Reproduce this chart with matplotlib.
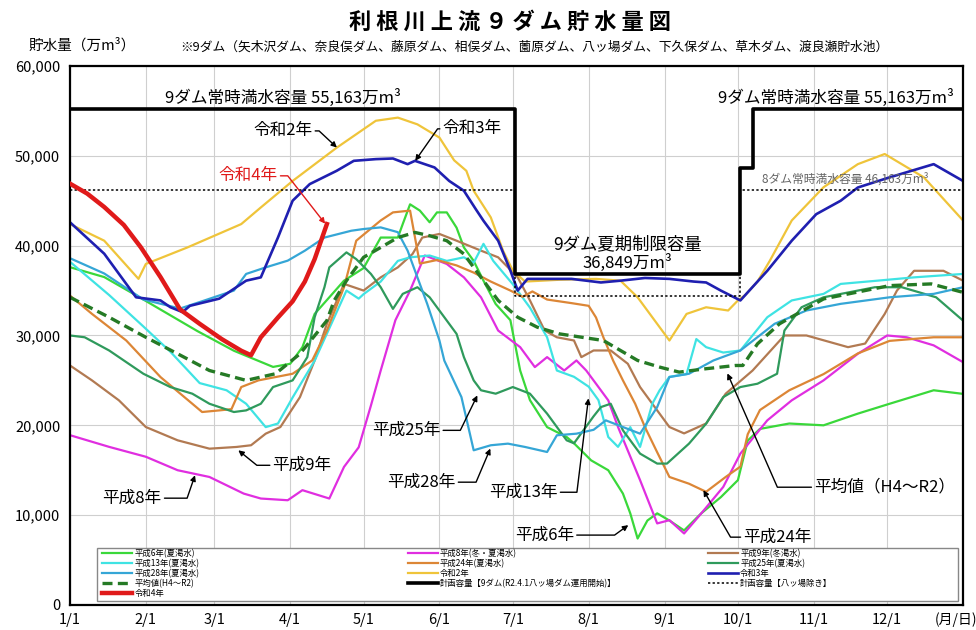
import matplotlib
matplotlib.use("Agg")
import matplotlib.pyplot as plt
from matplotlib.legend import Legend
from matplotlib.patches import Rectangle
from matplotlib.ticker import FuncFormatter

plt.rcParams['font.family'] = ['Noto Sans CJK JP', 'DejaVu Sans']

# x = day of year (0 = 1/1), y = storage in 万m3
month_days = [0, 31, 59, 90, 120, 151, 181, 212, 243, 273, 304, 334]
month_labels = ['1/1', '2/1', '3/1', '4/1', '5/1', '6/1', '7/1', '8/1', '9/1', '10/1', '11/1', '12/1']

h6_day = [0, 14, 30, 52, 67, 83, 90, 95, 100, 112, 120, 127, 134, 136, 139, 143, 147, 150, 154, 158, 161, 165,
          169, 174, 180, 184, 188, 195, 203, 206, 213, 220, 226, 229, 232, 236, 240, 245, 251, 258, 266, 273,
          277, 282, 294, 308, 322, 335, 353, 365]
h6_val = [37600, 36500, 34000, 30500, 28300, 26500, 26850, 28700, 32400, 36100, 37500, 40900, 40900, 42400,
          44600, 43900, 42600, 43700, 43700, 42000, 39800, 38300, 36100, 33500, 31700, 26100, 22800, 19800,
          18700, 18000, 16100, 15000, 12400, 10200, 7400, 9400, 10200, 9400, 8300, 10200, 12000, 13900, 18300,
          19600, 20200, 20000, 21300, 22400, 23900, 23500]

h8_day = [0, 16, 31, 44, 57, 71, 78, 89, 95, 106, 112, 118, 123, 127, 133, 139, 145, 147, 154, 161, 168, 175,
          184, 190, 195, 202, 207, 211, 215, 220, 224, 233, 240, 245, 251, 258, 267, 274, 285, 295, 308, 322,
          334, 342, 353, 365]
h8_val = [18900, 17600, 16500, 15000, 14250, 12400, 11850, 11660, 12780, 11850, 15370, 17550, 22200, 26100,
          31700, 35000, 38900, 38700, 37960, 36470, 34250, 30550, 28700, 26480, 27590, 26100, 27220, 26100,
          24630, 22780, 19810, 13900, 9080, 9440, 7960, 10190, 13140, 16850, 20550, 22780, 25000, 27960,
          30000, 29800, 28900, 27030]

h9_day = [0, 9, 20, 31, 44, 57, 68, 74, 80, 86, 94, 100, 105, 112, 120, 127, 134, 140, 144, 151, 158, 168, 175,
          183, 188, 194, 199, 206, 209, 214, 221, 228, 233, 239, 245, 251, 260, 268, 279, 292, 301, 318, 325,
          333, 338, 345, 357, 365]
h9_val = [26660, 25000, 22780, 19810, 18330, 17400, 17590, 17780, 19070, 19810, 23140, 27220, 31300, 35740,
          35000, 36470, 37580, 39070, 40900, 41300, 40550, 39440, 38700, 36470, 33900, 30550, 29800, 29440,
          27590, 28330, 28330, 26850, 24260, 22030, 19810, 19100, 20200, 23520, 26100, 30000, 30000, 28700,
          29100, 32400, 35000, 37200, 37200, 36100]

h13_day = [0, 16, 30, 41, 53, 64, 72, 80, 85, 91, 100, 108, 113, 118, 120, 127, 134, 139, 147, 154, 161, 165,
           169, 173, 181, 188, 195, 199, 206, 212, 216, 220, 224, 229, 233, 238, 241, 245, 252, 256, 260, 267,
           274, 285, 295, 308, 315, 330, 345, 365]
h13_val = [38200, 34500, 31000, 28200, 24700, 23900, 22400, 19800, 20200, 23100, 27200, 32000, 35000, 34100,
           34600, 36000, 38300, 38700, 38900, 38300, 38700, 38100, 40200, 38300, 35700, 33100, 29800, 26100,
           25400, 24300, 22800, 18700, 17600, 19800, 17600, 22400, 23900, 25400, 25700, 29600, 28700, 28100,
           28330, 32030, 33900, 34630, 35740, 36100, 36470, 36850]

h24_day = [0, 9, 23, 37, 50, 54, 61, 66, 70, 77, 91, 99, 105, 112, 117, 127, 132, 139, 142, 143, 150, 158, 165,
           172, 180, 185, 189, 195, 205, 212, 215, 218, 222, 226, 231, 235, 240, 245, 253, 260, 268, 274, 277,
           282, 294, 308, 322, 335, 353, 365]
h24_val = [34440, 32400, 29440, 25370, 22400, 21480, 21660, 21800, 24260, 25000, 25740, 27220, 30550, 35370,
           40550, 42800, 43700, 43900, 39440, 38000, 38400, 37800, 37000, 36000, 35000, 34300, 34900, 34000,
           33600, 33300, 32000, 29800, 27200, 25000, 22400, 19800, 17000, 14250, 13500, 12600, 14250, 15400,
           19000, 21700, 23900, 25700, 28000, 29400, 29800, 29800]

h25_day = [0, 6, 16, 30, 41, 50, 57, 67, 72, 78, 83, 91, 97, 100, 104, 106, 113, 117, 123, 127, 132, 136, 142,
           147, 153, 158, 161, 165, 168, 174, 181, 188, 195, 203, 206, 214, 217, 221, 226, 233, 240, 244, 253,
           260, 267, 274, 281, 289, 292, 299, 308, 329, 340, 354, 365]
h25_val = [30000, 29800, 28330, 25740, 24260, 23520, 22400, 21480, 21660, 22400, 24260, 25000, 27590, 32030,
           35370, 37580, 39250, 38500, 36850, 35370, 32960, 34630, 35370, 34250, 32030, 30180, 27590, 25000,
           23900, 23520, 24260, 23520, 21300, 18330, 18000, 21000, 22030, 22400, 19440, 16850, 15740, 15740,
           17960, 20180, 23140, 24260, 24630, 25740, 30550, 33140, 34250, 35370, 35370, 34250, 31660]

h28_day = [0, 14, 30, 45, 55, 67, 72, 80, 89, 96, 104, 115, 120, 127, 134, 138, 142, 146, 151, 153, 160, 165,
           172, 179, 186, 195, 199, 207, 214, 219, 226, 233, 240, 245, 253, 263, 274, 288, 301, 315, 335, 353, 365]
h28_val = [38600, 36900, 34000, 33000, 33900, 35000, 36850, 37580, 38330, 39440, 40900, 41660, 41850, 42030,
           41500, 39440, 36470, 33520, 29440, 27200, 23140, 17220, 17780, 17960, 17590, 17030, 18890, 19070,
           19500, 20550, 19810, 19070, 22030, 25370, 25740, 27220, 28330, 31300, 32780, 33520, 34250, 34630, 35370]

r2_day = [0, 14, 28, 31, 48, 70, 78, 91, 109, 125, 134, 142, 151, 157, 162, 165, 172, 177, 181, 186, 200, 215,
          225, 232, 239, 245, 252, 260, 269, 273, 276, 281, 286, 295, 308, 322, 333, 349, 365]
r2_val = [42400, 40550, 36300, 37960, 39800, 42400, 44250, 47200, 50900, 53900, 54250, 53500, 52030, 49500,
          48330, 46110, 43140, 39440, 37220, 36000, 36200, 36300, 36100, 34250, 31660, 29440, 32400, 33140,
          32780, 33900, 34500, 36000, 38300, 42800, 46500, 49070, 50200, 47600, 42800]

r3_day = [0, 14, 27, 37, 41, 46, 49, 61, 72, 78, 85, 91, 98, 109, 116, 125, 132, 138, 141, 149, 155, 161, 166,
          169, 175, 180, 183, 187, 195, 205, 217, 225, 235, 245, 255, 260, 266, 274, 279, 285, 295, 305, 315,
          322, 335, 353, 365]
r3_val = [42600, 39100, 34250, 33900, 33150, 32600, 33300, 34100, 36100, 36470, 40900, 45000, 46850, 48330,
          49440, 49630, 49700, 49070, 49440, 48700, 47200, 46110, 44000, 42770, 40550, 37220, 35000, 36300,
          36300, 36300, 35900, 36100, 36400, 36300, 36000, 35900, 35000, 33900, 35400, 37200, 40550, 43500,
          45000, 46470, 47600, 49070, 47200]

avg_day = [0, 16, 31, 44, 57, 72, 84, 94, 105, 108, 113, 120, 134, 141, 147, 154, 161, 168, 175, 183, 191,
           200, 218, 225, 232, 241, 249, 260, 272, 275, 281, 290, 308, 335, 352, 365]
avg_val = [34250, 32030, 29800, 27960, 26100, 25000, 25740, 27960, 31660, 33900, 36100, 38700, 40900, 41470,
           41100, 40550, 39070, 36470, 33900, 32030, 30920, 30180, 29440, 28330, 27220, 26480, 25920, 26300,
           26660, 26660, 29070, 31300, 34070, 35550, 35740, 34800]

r4_day = [0, 7, 14, 22, 29, 37, 45, 53, 62, 70, 74, 78, 85, 91, 96, 100, 105]
r4_val = [46900, 45800, 44300, 42300, 39800, 36500, 32900, 31300, 29600, 28300, 27800, 29800, 32000, 33800,
          36000, 38500, 42400]

# planned capacity: 9 dams (with Yamba) and 8 dams (without Yamba)
cap9_day = [0, 182, 182, 274, 274, 279, 279, 365]
cap9_val = [55163, 55163, 36849, 36849, 48663, 48663, 55163, 55163]
cap8_day = [0, 182, 182, 274, 274, 365]
cap8_val = [46163, 46163, 34349, 34349, 46163, 46163]

fig = plt.figure(figsize=(9.76, 6.3), dpi=100)
ax = fig.add_axes([0.0717, 0.0397, 0.915, 0.8556])

series = [
    (h6_day, h6_val, '#3ad83a', 1.6, '平成6年(夏渇水)'),
    (h8_day, h8_val, '#e02ee0', 1.6, '平成8年(冬・夏渇水)'),
    (h9_day, h9_val, '#b27a52', 1.6, '平成9年(冬渇水)'),
    (h13_day, h13_val, '#3fe3e3', 1.6, '平成13年(夏渇水)'),
    (h24_day, h24_val, '#dc8636', 1.6, '平成24年(夏渇水)'),
    (h25_day, h25_val, '#2f9a5c', 1.6, '平成25年(夏渇水)'),
    (h28_day, h28_val, '#35a6d6', 1.6, '平成28年(夏渇水)'),
    (r2_day, r2_val, '#efc43a', 1.6, '令和2年'),
    (r3_day, r3_val, '#1f1fb0', 1.9, '令和3年'),
]
handles = {}
for d, v, c, lw, lab in series:
    handles[lab], = ax.plot(d, v, color=c, lw=lw, zorder=2)

handles['平均値(H4～R2)'], = ax.plot(avg_day, avg_val, color='#257a25', lw=2.4, ls=(0, (3, 1.6)), zorder=2)
handles['計画容量【9ダム(R2.4.1八ッ場ダム運用開始)】'], = ax.plot(cap9_day, cap9_val, color='black', lw=2.6, zorder=3)
handles['計画容量【八ッ場除き】'], = ax.plot(cap8_day, cap8_val, color='black', lw=1.1, ls=(0, (1.5, 1.5)), zorder=3)
handles['令和4年'], = ax.plot(r4_day, r4_val, color='#e01a1a', lw=3.2, zorder=4)

ax.set_xlim(0, 365)
ax.set_ylim(0, 60000)
ax.set_xticks(month_days)
ax.set_xticklabels(month_labels, fontsize=10.5)
ax.set_yticks(range(0, 60001, 10000))
ax.yaxis.set_major_formatter(FuncFormatter(lambda v, p: f'{int(v):,}'))
ax.tick_params(length=0, labelsize=10.5)
ax.tick_params(axis='y', pad=7)
ax.tick_params(axis='x', pad=6)
ax.grid(True, color='#cfcfcf', lw=0.8)
ax.set_axisbelow(True)
for s in ax.spines.values():
    s.set_linewidth(1.6)

# capacity texts
ax.text(87, 56440, '9ダム常時満水容量 55,163万m³', fontsize=12, ha='center', va='center')
ax.text(313, 56440, '9ダム常時満水容量 55,163万m³', fontsize=12, ha='center', va='center')
ax.text(228, 40100, '9ダム夏期制限容量', fontsize=12.5, ha='center', va='center')
ax.text(228, 38100, '36,849万m³', fontsize=12, ha='center', va='center')
ax.text(317, 47440, '8ダム常時満水容量 46,163万m³', fontsize=8.5, ha='center', va='center', color='#666666')


def note(text, xy, xytext, angle, side, color='black'):
    ax.annotate(text, xy=xy, xytext=xytext, fontsize=12, color=color, ha='center', va='center', zorder=6,
                arrowprops=dict(arrowstyle='-|>', color=color, lw=1.0, mutation_scale=8,
                                shrinkA=0, shrinkB=0, relpos=(side, 0.5),
                                connectionstyle=f'angle,angleA=0,angleB={angle},rad=0'))


note('令和2年', (109.1, 50920), (87, 52770), -43, 1)
note('令和3年', (141.1, 49440), (164.4, 53000), 55, 0)
note('令和4年', (104.3, 42440), (72.8, 47770), -52, 1, color='#e01a1a')
note('平成9年', (68.8, 17220), (94.9, 15550), 141, 0)
note('平成8年', (51.1, 14440), (25.4, 11890), 71, 1)
note('平成25年', (166.5, 23330), (137.4, 19440), 64, 1)
note('平成28年', (171.8, 17410), (143.6, 13670), 67, 1)
note('平成13年', (211.9, 23000), (185.3, 12550), 83, 1)
note('平成6年', (228.2, 8890), (193.9, 7780), 36, 1)
note('平成24年', (258.9, 12780), (289.2, 7550), 120, 0)
note('平均値（H4～R2）', (268.7, 25780), (333, 13110), 113.7, 0)

# legend box with three columns
ax.add_patch(Rectangle((0.030, 0.0074), 0.964, 0.0983, transform=ax.transAxes,
                       facecolor='white', edgecolor='#888888', lw=1.0, zorder=7))
cols = [
    ['平成6年(夏渇水)', '平成13年(夏渇水)', '平成28年(夏渇水)', '平均値(H4～R2)', '令和4年'],
    ['平成8年(冬・夏渇水)', '平成24年(夏渇水)', '令和2年', '計画容量【9ダム(R2.4.1八ッ場ダム運用開始)】'],
    ['平成9年(冬渇水)', '平成25年(夏渇水)', '令和3年', '計画容量【八ッ場除き】'],
]
xs = [0.036, 0.378, 0.714]
for labs, x0 in zip(cols, xs):
    lg = Legend(ax, [handles[l] for l in labs], labs, loc='upper left', bbox_to_anchor=(x0, 0.104),
                fontsize=6, frameon=False, handlelength=3.6, handletextpad=0.3,
                labelspacing=0.12, borderpad=0, borderaxespad=0)
    lg.set_zorder(8)
    ax.add_artist(lg)

fig.text(0.5225, 0.965, '利 根 川 上 流 ９ ダ ム 貯 水 量 図', fontsize=16, fontweight='bold',
         ha='center', va='center')
fig.text(0.548, 0.925, '※9ダム（矢木沢ダム、奈良俣ダム、藤原ダム、相俣ダム、薗原ダム、八ッ場ダム、下久保ダム、草木ダム、渡良瀬貯水池）',
         fontsize=9.2, ha='center', va='center')
fig.text(0.029, 0.928, '貯水量（万m³）', fontsize=10.5, ha='left', va='center')
fig.text(0.979, 0.016, '(月/日)', fontsize=10, ha='center', va='center')

fig.savefig('out.png', dpi=100)
